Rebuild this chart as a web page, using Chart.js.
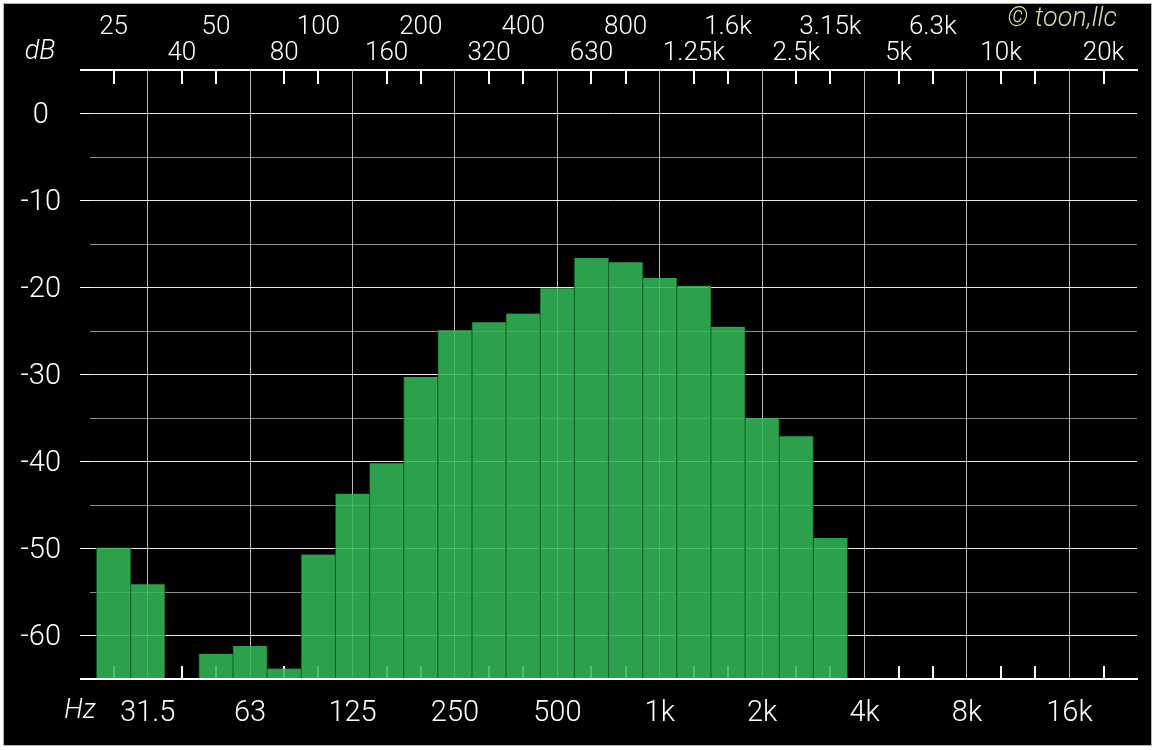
<!DOCTYPE html>
<html lang="en">
<head>
<meta charset="UTF-8"/>
<title>1/3 octave spectrum</title>
<script src="https://cdn.jsdelivr.net/npm/chart.js"></script>
<style>
  html, body { margin: 0; padding: 0; background: #fff; }
  .panel { position: absolute; left: 3px; top: 3px; width: 1147px; height: 741px;
    background: #000; border: 1px solid #b4b4b4; }
  canvas { display: block; }
</style>
</head>
<body>
<div class="panel"><canvas id="spec" width="1147" height="741"></canvas></div>
<script>
  // 1/3 octave bands and measured level (dB), null = nothing shown
  const bands = ['25', '31.5', '40', '50', '63', '80', '100', '125', '160', '200',
    '250', '320', '400', '500', '630', '800', '1k', '1.25k', '1.6k', '2k',
    '2.5k', '3.15k', '4k', '5k', '6.3k', '8k', '10k', '12.5k', '16k', '20k'];
  const levels = [-49.9, -54.1, null, -62.1, -61.2, -63.8, -50.7, -43.7, -40.2, -30.3,
    -24.9, -24.0, -23.0, -20.1, -16.6, -17.1, -18.9, -19.8, -24.5, -35.0,
    -37.1, -48.8, null, null, null, null, null, null, null, null];

  // tick labels
  const octaveLabels = ['31.5', '63', '125', '250', '500', '1k', '2k', '4k', '8k', '16k'];
  const topUpper = ['25', '50', '100', '200', '400', '800', '1.6k', '3.15k', '6.3k'];
  const topLower = ['40', '80', '160', '320', '630', '1.25k', '2.5k', '5k', '10k', '20k'];

  const yMin = -65, yMax = 5, yStep = 5;
  const xMin = -0.69, xMax = 29.98;

  const FONT = 'Roboto';
  const bandTicks = s => { s.ticks = bands.map((b, i) => ({ value: i })); };

  const overlay = {
    id: 'overlay',
    beforeDatasetsDraw(chart) {
      const { ctx, chartArea: a, scales: { x } } = chart;
      ctx.save();
      ctx.strokeStyle = '#fff';
      ctx.lineWidth = 2;
      bands.forEach((b, i) => {
        if (octaveLabels.includes(b)) return;
        const px = Math.round(x.getPixelForValue(i));
        ctx.beginPath();
        ctx.moveTo(px, a.top); ctx.lineTo(px, a.top + 14);
        ctx.moveTo(px, a.bottom - 13); ctx.lineTo(px, a.bottom);
        ctx.stroke();
      });
      ctx.restore();
    },
    afterDraw(chart) {
      const { ctx, chartArea: a } = chart;
      ctx.save();
      ctx.fillStyle = '#fff';
      ctx.textBaseline = 'middle';
      ctx.textAlign = 'center';
      ctx.font = `italic 300 27px ${FONT}`;
      ctx.fillText('dB', a.left - 50, a.top - 18);
      ctx.fillText('Hz', a.left - 10, a.bottom + 32);
      ctx.font = `italic 300 27px ${FONT}`;
      ctx.fillStyle = '#d8d6a4';
      ctx.textAlign = 'right';
      ctx.fillText('\u00a9 toon,llc', a.right - 20, 15);
      ctx.restore();
    }
  };

  new Chart(document.getElementById('spec'), {
    type: 'bar',
    data: {
      datasets: [{
        data: levels.map((v, i) => ({ x: i, y: v })),
        base: yMin,
        backgroundColor: 'rgba(52, 184, 86, 0.87)',
        borderColor: '#146a2b',
        borderWidth: { left: 1, right: 1, top: 0, bottom: 0 },
        barPercentage: 1,
        categoryPercentage: 1
      }]
    },
    options: {
      responsive: false,
      animation: false,
      layout: { padding: { left: 0, right: 14, top: 0, bottom: 0 } },
      plugins: { legend: { display: false }, tooltip: { enabled: false } },
      scales: {
        x: {
          type: 'linear', position: 'bottom', min: xMin, max: xMax, bounds: 'data', offset: false,
          afterBuildTicks: bandTicks,
          afterFit: s => { s.height = 66; },
          grid: {
            offset: false, drawTicks: false, lineWidth: 1,
            color: c => (c.tick && octaveLabels.includes(bands[c.tick.value])) ? 'rgba(255,255,255,0.72)' : 'transparent'
          },
          border: { color: '#fff', width: 2 },
          ticks: {
            autoSkip: false, maxRotation: 0, padding: 17, color: '#fff',
            font: { family: FONT, size: 29, weight: 300 },
            callback: v => octaveLabels.includes(bands[v]) ? bands[v] : ''
          }
        },
        xTop: {
          type: 'linear', position: 'top', min: xMin, max: xMax, bounds: 'data', offset: false,
          afterBuildTicks: bandTicks,
          afterFit: s => { s.height = 66; },
          grid: { drawTicks: false, drawOnChartArea: false, color: 'transparent' },
          border: { color: '#fff', width: 2 },
          ticks: {
            autoSkip: false, maxRotation: 0, padding: 4, color: '#fff',
            font: { family: FONT, size: 26, weight: 300, lineHeight: 1.0 },
            callback: v => {
              const b = bands[v];
              if (topUpper.includes(b)) return [b, ''];
              if (topLower.includes(b)) return b;
              return '';
            }
          }
        },
        y: {
          min: yMin, max: yMax,
          afterFit: s => { s.width = 86; },
          grid: {
            tickLength: 10,
            lineWidth: c => (c.tick && (c.tick.value === yMin || c.tick.value === yMax)) ? 2 : 1,
            color: c => (c.tick && c.tick.value % 10 === 0) ? 'rgba(255,255,255,0.9)' : 'rgba(255,255,255,0.55)',
            tickColor: c => (c.tick && (c.tick.value % 10 === 0 || c.tick.value === yMin || c.tick.value === yMax)) ? '#fff' : 'transparent'
          },
          border: { display: false },
          ticks: {
            stepSize: yStep, crossAlign: 'center', padding: 19, labelOffset: 2, color: '#fff',
            font: { family: FONT, size: 29, weight: 300 },
            callback: v => v % 10 === 0 ? String(v) : ''
          }
        }
      }
    },
    plugins: [overlay]
  });
</script>
</body>
</html>
